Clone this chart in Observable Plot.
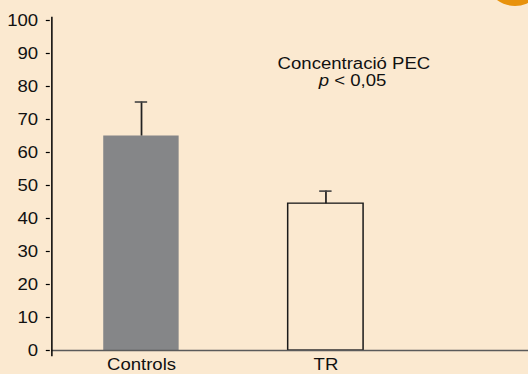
<!DOCTYPE html>
<html><head><meta charset="utf-8">
<script src="https://cdn.jsdelivr.net/npm/d3@7"></script>
<script src="https://cdn.jsdelivr.net/npm/@observablehq/plot@0.6"></script>
<style>
html,body{margin:0;padding:0;background:#fbe9d0;overflow:hidden}
#wrap{position:relative;width:528px;height:374px;overflow:hidden;background:#fbe9d0}
#dot{position:absolute;left:485px;top:-54px;width:60px;height:60px;border-radius:50%;background:#e8920c}
</style></head><body><div id="wrap"><div id="chart"></div><div id="dot"></div></div>
<script>
const groups = ["Controls", "TR"];
const means = [65, 44.5];
const errors = [10.3, 3.8];
const yTicks = [0, 10, 20, 30, 40, 50, 60, 70, 80, 90, 100];
const titleLine = "Concentració PEC";
const pLine = "p < 0,05";

const data = groups.map((g, i) => ({group: g, mean: means[i], err: errors[i]}));

const S = 1.16;          // horizontal stretch of the original figure
const W = 528 / S;
const ml = 51.3 / S;
const frameCenter = (ml + W) / 2;
const bandW = 76 / S;
const capW = 13 / S;

const plot = Plot.plot({
  width: W, height: 374,
  marginLeft: ml, marginRight: 0, marginTop: 20, marginBottom: 24,
  style: {background: "transparent", fontFamily: "'Liberation Sans', Arial, sans-serif", fontSize: "16px", color: "#111", overflow: "visible"},
  x: {domain: groups, range: [48.5 / S, 418.5 / S], paddingInner: 0.589, paddingOuter: 0.2945, align: 0.5, label: null},
  y: {domain: [0, 100], range: [350, 20], label: null},
  marks: [
    Plot.barY(data.filter(d => d.group === "Controls"), {x: "group", y: "mean", fill: "#858688"}),
    Plot.ruleX(data, {x: "group", y1: "mean", y2: d => d.mean + d.err, stroke: "#222", strokeWidth: 1.5}),
    Plot.tickY(data, {x: "group", y: d => d.mean + d.err, stroke: "#444", strokeWidth: 1.6,
      insetLeft: (bandW - capW) / 2, insetRight: (bandW - capW) / 2}),
    Plot.barY(data.filter(d => d.group === "TR"), {x: "group", y: "mean", fill: "none", stroke: "#1a1a1a", strokeWidth: 1.3}),
    Plot.ruleY([0], {stroke: "#5a5a5a", strokeWidth: 1.6}),
    Plot.frame({anchor: "left", insetTop: -3, insetBottom: -5, stroke: "#000", strokeWidth: 1.3}),
    Plot.axisY(yTicks, {label: null, tickSize: 4 / S, dx: -1.5 / S, tickPadding: 8.3 / S, stroke: "#000", strokeWidth: 1.2}),
    Plot.axisX({label: null, tickSize: 0, tickPadding: 8.5}),
    Plot.text([titleLine], {frameAnchor: "top", dx: 353.3 / S - frameCenter, dy: 36.7, lineAnchor: "top", textAnchor: "middle", fill: "#111"}),
    Plot.text([pLine], {frameAnchor: "top", dx: 352 / S - frameCenter, dy: 54.3, lineAnchor: "top", textAnchor: "middle", fill: "#111"})
  ]
});

plot.setAttribute("width", 528);
plot.setAttribute("height", 374);
plot.setAttribute("preserveAspectRatio", "none");
plot.style.width = "528px";
plot.style.height = "374px";
plot.style.maxWidth = "none";

d3.select(plot).selectAll("text").filter(function () { return this.textContent === pLine; }).each(function () {
  const t = d3.select(this);
  t.text(null);
  t.append("tspan").attr("font-style", "italic").text("p");
  t.append("tspan").text(" < 0,05");
});

document.getElementById("chart").appendChild(plot);
</script>
</body></html>
